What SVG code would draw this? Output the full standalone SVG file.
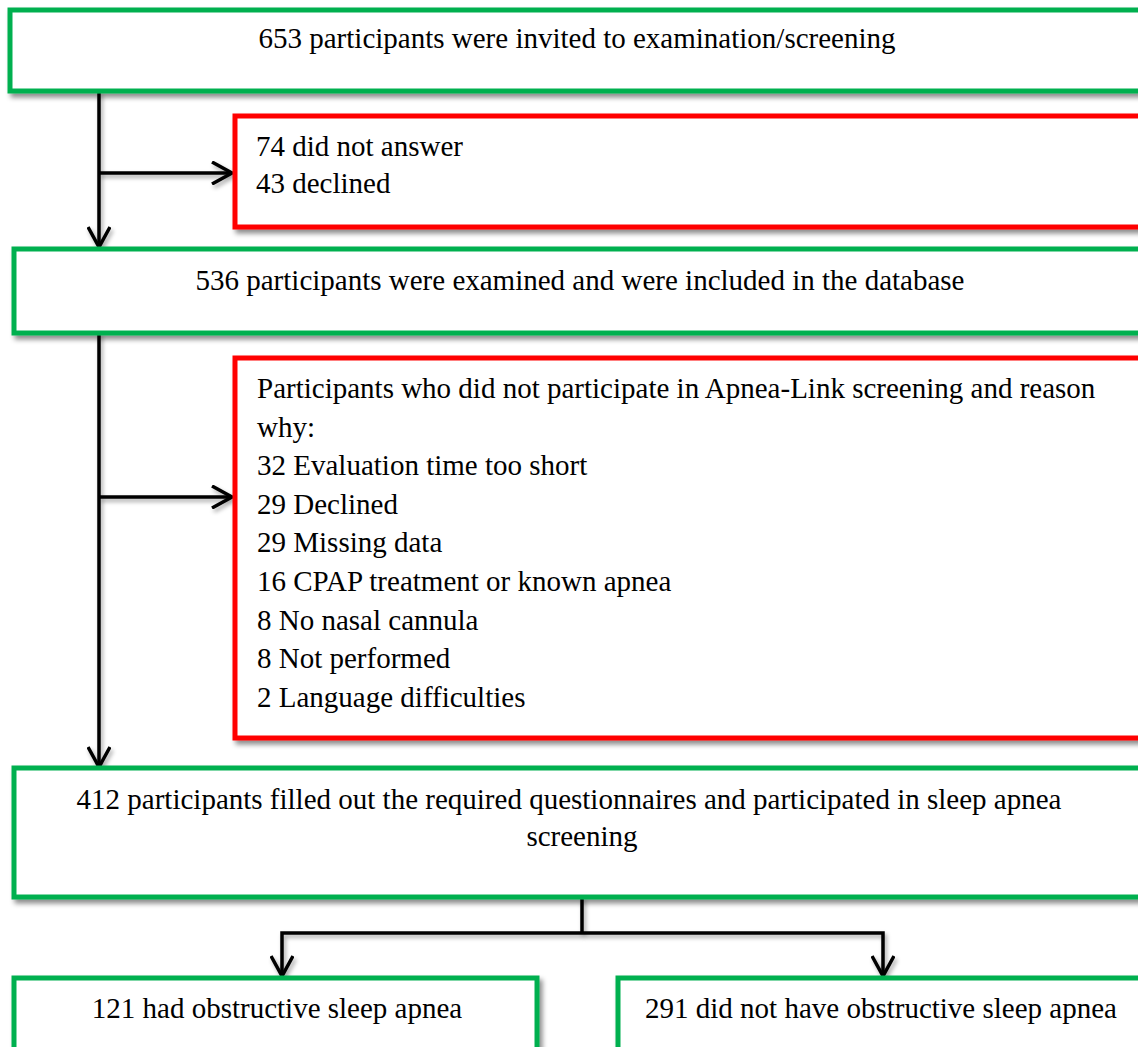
<svg xmlns="http://www.w3.org/2000/svg" width="1138" height="1047" viewBox="0 0 1138 1047">
<defs>
<filter id="sh" x="-5%" y="-20%" width="115%" height="150%">
<feDropShadow dx="3" dy="4" stdDeviation="2.5" flood-color="#000" flood-opacity="0.45"/>
</filter>
<filter id="ash" filterUnits="userSpaceOnUse" x="0" y="0" width="1138" height="1047">
<feDropShadow dx="2" dy="3" stdDeviation="2" flood-color="#000" flood-opacity="0.35"/>
</filter>
<marker id="ah" viewBox="-22 -12 26 24" markerWidth="26" markerHeight="24" refX="0" refY="0" markerUnits="userSpaceOnUse" orient="auto">
<path d="M-20,-11 L0,0 L-20,11" fill="none" stroke="#000" stroke-width="3.5" stroke-linejoin="miter"/>
</marker>
</defs>
<style>
.g{fill:#fff;stroke:#00B050;stroke-width:5;filter:url(#sh)}
.r{fill:#fff;stroke:#FF0000;stroke-width:5;filter:url(#sh)}
.t{font-family:"Liberation Serif","Times New Roman",serif;font-size:29px;fill:#000}
.c{text-anchor:middle}
.ln{fill:none;stroke:#000;stroke-width:3.5;filter:url(#ash)}
</style>
<rect width="1138" height="1047" fill="#fff"/>
<g id="connectors">
<path class="ln" d="M99,92 V247" marker-end="url(#ah)"/>
<path class="ln" d="M99,173 H232" marker-end="url(#ah)"/>
<path class="ln" d="M99,333 V767" marker-end="url(#ah)"/>
<path class="ln" d="M99,497 H232" marker-end="url(#ah)"/>
<path class="ln" d="M582,897 V933"/>
<path class="ln" d="M582,933 H282 V976" marker-end="url(#ah)"/>
<path class="ln" d="M582,933 H883 V976" marker-end="url(#ah)"/>
</g>
<g id="n1">
<rect class="g" x="10" y="10" width="1150" height="81"/>
<text class="t c" x="577" y="48">653 participants were invited to examination/screening</text>
</g>
<g id="n2">
<rect class="r" x="235" y="116" width="930" height="111"/>
<text class="t" x="256" y="156">74 did not answer</text>
<text class="t" x="256" y="193">43 declined</text>
</g>
<g id="n3">
<rect class="g" x="14" y="249" width="1150" height="84"/>
<text class="t c" x="580" y="290">536 participants were examined and were included in the database</text>
</g>
<g id="n4">
<rect class="r" x="235" y="358" width="930" height="380"/>
<text class="t" x="257" y="398">Participants who did not participate in Apnea-Link screening and reason</text>
<text class="t" x="257" y="436.6">why:</text>
<text class="t" x="257" y="475.2">32 Evaluation time too short</text>
<text class="t" x="257" y="513.8">29 Declined</text>
<text class="t" x="257" y="552.4">29 Missing data</text>
<text class="t" x="257" y="591">16 CPAP treatment or known apnea</text>
<text class="t" x="257" y="629.6">8 No nasal cannula</text>
<text class="t" x="257" y="668.2">8 Not performed</text>
<text class="t" x="257" y="706.8">2 Language difficulties</text>
</g>
<g id="n5">
<rect class="g" x="14" y="768" width="1150" height="129"/>
<text class="t c" x="569" y="809">412 participants filled out the required questionnaires and participated in sleep apnea</text>
<text class="t c" x="582" y="846">screening</text>
</g>
<g id="n6">
<rect class="g" x="14" y="978" width="523" height="100"/>
<text class="t c" x="277" y="1018">121 had obstructive sleep apnea</text>
</g>
<g id="n7">
<rect class="g" x="618" y="978" width="540" height="100"/>
<text class="t c" x="881" y="1018">291 did not have obstructive sleep apnea</text>
</g>
</svg>
